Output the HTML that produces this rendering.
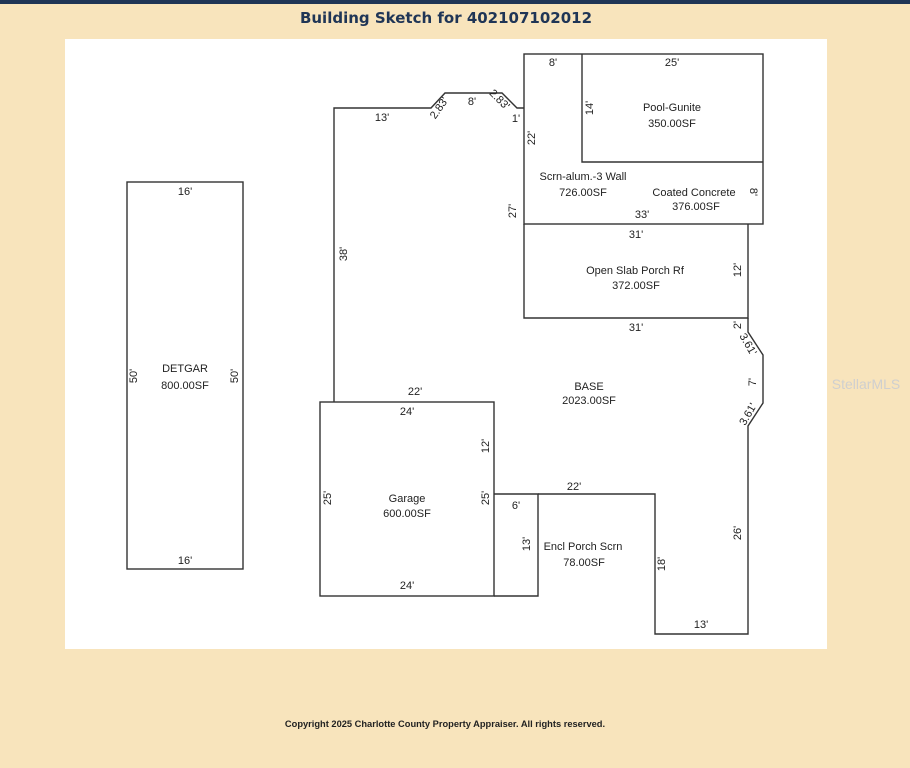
<!DOCTYPE html>
<html><head><meta charset="utf-8"><style>
body{margin:0;width:910px;height:768px;background:#f8e4bc;overflow:hidden;font-family:"Liberation Sans",sans-serif}
</style></head><body>
<svg width="910" height="768" xmlns="http://www.w3.org/2000/svg" style="position:absolute;left:0;top:0">
<rect x="0" y="0" width="910" height="4" fill="#1f3556"/>
<text x="446" y="23" text-anchor="middle" font-family="DejaVu Sans,Liberation Sans,sans-serif" font-weight="bold" font-size="15" fill="#1f3556">Building Sketch for 402107102012</text>
<rect x="65" y="39" width="762" height="610" fill="#fff"/>
<g stroke="#333" stroke-width="1.4" fill="none">
<rect x="127" y="182" width="116" height="387"/>
<rect x="320" y="402" width="174" height="194"/>
<polyline points="494,494 538,494 538,596 494,596"/>
<polyline points="538,494 655,494 655,634 748,634 748,426 763,403 763,355 748,332 748,318"/>
<polyline points="334,402 334,108 431,108 445,93 502,93 517,108 524,108"/>
<rect x="524" y="54" width="239" height="170"/>
<polyline points="582,54 582,162 763,162"/>
<polyline points="524,224 524,318 748,318 748,224"/>
</g>
<g font-size="11" fill="#222" text-anchor="middle">
<text x="185" y="195">16'</text><text x="185" y="564">16'</text>
<text x="185" y="372">DETGAR</text><text x="185" y="389">800.00SF</text>
<text transform="translate(137,376) rotate(-90)">50'</text>
<text transform="translate(238,376) rotate(-90)">50'</text>
<text x="407" y="415">24'</text><text x="407" y="589">24'</text>
<text x="407" y="502">Garage</text><text x="407" y="517">600.00SF</text>
<text transform="translate(331,498) rotate(-90)">25'</text>
<text transform="translate(489,498) rotate(-90)">25'</text>
<text transform="translate(489,446) rotate(-90)">12'</text>
<text x="415" y="395">22'</text>
<text transform="translate(347,254) rotate(-90)">38'</text>
<text x="382" y="121">13'</text>
<text transform="translate(442,110) rotate(-55)">2.83'</text>
<text x="472" y="105">8'</text>
<text transform="translate(497,102) rotate(45)">2.83'</text>
<text x="516" y="122">1'</text>
<text x="553" y="66">8'</text><text x="672" y="66">25'</text>
<text transform="translate(593,108) rotate(-90)">14'</text>
<text x="672" y="111">Pool-Gunite</text><text x="672" y="127">350.00SF</text>
<text transform="translate(535,138) rotate(-90)">22'</text>
<text x="583" y="180">Scrn-alum.-3 Wall</text><text x="583" y="196">726.00SF</text>
<text x="694" y="196">Coated Concrete</text><text x="696" y="210">376.00SF</text>
<text transform="translate(750,192) rotate(90)">8'</text>
<text x="642" y="218">33'</text>
<text transform="translate(516,211) rotate(-90)">27'</text>
<text x="636" y="238">31'</text>
<text x="635" y="274">Open Slab Porch Rf</text><text x="636" y="289">372.00SF</text>
<text transform="translate(741,270) rotate(-90)">12'</text>
<text x="636" y="331">31'</text>
<text transform="translate(741,325) rotate(-90)">2'</text>
<text transform="translate(745,346) rotate(60)">3.61'</text>
<text transform="translate(756,382) rotate(-90)">7'</text>
<text transform="translate(751,416) rotate(-60)">3.61'</text>
<text x="589" y="390">BASE</text><text x="589" y="404">2023.00SF</text>
<text x="574" y="490">22'</text>
<text x="516" y="509">6'</text>
<text transform="translate(530,544) rotate(-90)">13'</text>
<text x="583" y="550">Encl Porch Scrn</text><text x="584" y="566">78.00SF</text>
<text transform="translate(665,564) rotate(-90)">18'</text>
<text transform="translate(741,533) rotate(-90)">26'</text>
<text x="701" y="628">13'</text>
</g>
<text x="866" y="389" text-anchor="middle" font-size="14" fill="#cfcfcf">StellarMLS</text>
<text x="445" y="727" text-anchor="middle" font-size="9.3" font-weight="bold" fill="#222">Copyright 2025 Charlotte County Property Appraiser. All rights reserved.</text>
</svg>
</body></html>
